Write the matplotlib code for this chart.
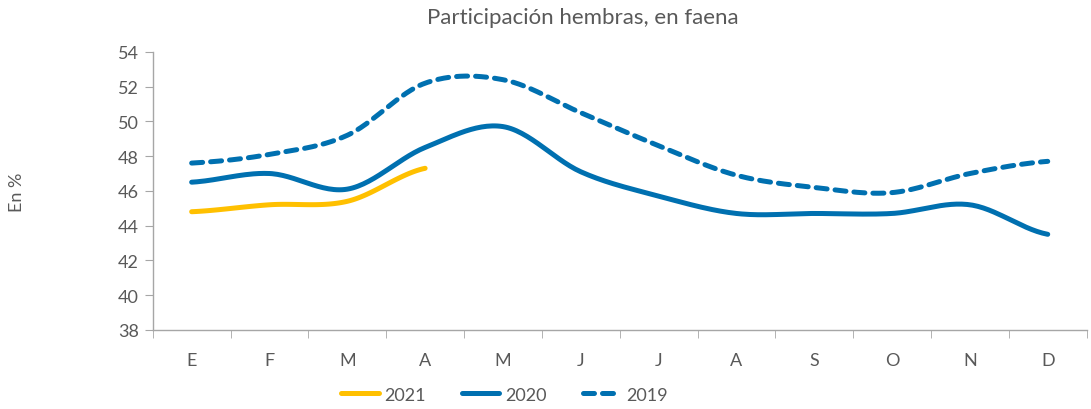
import matplotlib.pyplot as plt
import numpy as np

# Participación hembras en faena (%), por mes
months = ['E', 'F', 'M', 'A', 'M', 'J', 'J', 'A', 'S', 'O', 'N', 'D']
y2021 = [44.8, 45.2, 45.4, 47.3]
y2020 = [46.5, 47.0, 46.1, 48.5, 49.7, 47.1, 45.7, 44.7, 44.7, 44.7, 45.2, 43.5]
y2019 = [47.6, 48.1, 49.2, 52.2, 52.4, 50.5, 48.6, 46.9, 46.2, 45.9, 47.0, 47.7]

text_color = '#595959'
plt.rcParams['font.family'] = ['Lato', 'DejaVu Sans']


def smooth(x, y, n=30):
    # Catmull-Rom style smoothing like Excel's smoothed lines
    x = np.asarray(x, float)
    y = np.asarray(y, float)
    px = np.concatenate([[2 * x[0] - x[1]], x, [2 * x[-1] - x[-2]]])
    py = np.concatenate([[y[0]], y, [y[-1]]])
    xs, ys = [], []
    t = np.linspace(0, 1, n)
    for i in range(1, len(px) - 2):
        p0, p1, p2, p3 = py[i - 1], py[i], py[i + 1], py[i + 2]
        q0, q1, q2, q3 = px[i - 1], px[i], px[i + 1], px[i + 2]
        c1y = p1 + (p2 - p0) / 6
        c2y = p2 - (p3 - p1) / 6
        c1x = q1 + (q2 - q0) / 6
        c2x = q2 - (q3 - q1) / 6
        b = [(1 - t) ** 3, 3 * (1 - t) ** 2 * t, 3 * (1 - t) * t ** 2, t ** 3]
        xs.append(b[0] * q1 + b[1] * c1x + b[2] * c2x + b[3] * q2)
        ys.append(b[0] * p1 + b[1] * c1y + b[2] * c2y + b[3] * p2)
    return np.concatenate(xs), np.concatenate(ys)


fig = plt.figure(figsize=(10.91, 4.10), dpi=100)
ax = fig.add_axes([0.140, 0.193, 0.856, 0.678])

x = np.arange(len(months))
sx, sy = smooth(x[:len(y2021)], y2021)
ax.plot(sx, sy, color='#FFC000', lw=3.6, solid_capstyle='round', label='2021', zorder=3)
sx, sy = smooth(x, y2020)
ax.plot(sx, sy, color='#0070B0', lw=3.6, solid_capstyle='round', label='2020', zorder=3)
sx, sy = smooth(x, y2019)
ax.plot(sx, sy, color='#0070B0', lw=3.6, dashes=(2.2, 1.6), dash_capstyle='round',
        label='2019', zorder=3)

ax.set_xlim(-0.5, len(months) - 0.5)
ax.set_ylim(38, 54)
ax.set_yticks(np.arange(38, 55, 2))
ax.set_xticks(x)
ax.set_xticklabels(months)
ax.set_xticks(np.arange(-0.5, len(months), 1), minor=True)
ax.tick_params(axis='x', which='major', length=0, pad=16, labelsize=13, colors=text_color)
ax.tick_params(axis='x', which='minor', length=6, color='#A6A6A6')
ax.tick_params(axis='y', length=6, color='#A6A6A6', labelsize=13, labelcolor=text_color, pad=4)

for side in ['top', 'right']:
    ax.spines[side].set_visible(False)
for side in ['left', 'bottom']:
    ax.spines[side].set_color('#A6A6A6')
    ax.spines[side].set_linewidth(1)

fig.text(0.534, 0.955, 'Participación hembras, en faena', ha='center', va='center',
         fontsize=16, color=text_color)
fig.text(0.016, 0.53, 'En %', rotation=90, ha='center', va='center',
         fontsize=13, color=text_color)

leg = fig.legend(loc='center', bbox_to_anchor=(0.462, 0.035), ncol=3, frameon=False,
                 fontsize=13, handlelength=2.1, columnspacing=2.0, handletextpad=0.3)
for t in leg.get_texts():
    t.set_color(text_color)

plt.savefig('out.png', dpi=100, facecolor='white')
